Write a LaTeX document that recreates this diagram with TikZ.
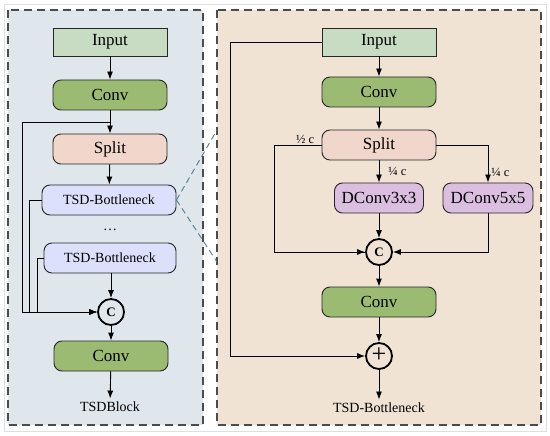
\documentclass[tikz,border=0pt]{standalone}
\usepackage{fontspec}
\setmainfont{Liberation Serif}
\usetikzlibrary{arrows.meta, positioning, calc}

\definecolor{panelblue}{HTML}{DFE6EC}
\definecolor{panelbeige}{HTML}{F0E3D4}
\definecolor{inputgreen}{HTML}{C8DBC3}
\definecolor{convgreen}{HTML}{9CBB72}
\definecolor{splitpink}{HTML}{F0D6CB}
\definecolor{tsdblue}{HTML}{DDE0FA}
\definecolor{dconvpurple}{HTML}{DCBEE0}
\definecolor{zoomteal}{HTML}{4F7D8E}

\tikzset{
  box/.style={draw=black!85, line width=0.9pt, minimum width=114pt, minimum height=30pt,
    inner sep=0pt, font=\fontsize{17}{17}\selectfont},
  rbox/.style={box, rounded corners=8pt},
  opnode/.style={circle, draw=black, line width=1.8pt, minimum size=26pt, inner sep=0pt},
  arr/.style={-{Latex[length=8pt,width=6pt]}, line width=0.9pt},
  link/.style={line width=0.9pt},
  panel/.style={dash pattern=on 8pt off 5pt, line width=1.2pt, draw=black!70},
  small/.style={font=\fontsize{14}{14}\selectfont},
  frac/.style={font=\fontsize{12.5}{12.5}\selectfont, inner sep=1pt},
}

\begin{document}
\begin{tikzpicture}[x=1pt, y=-1pt]
  \useasboundingbox (0,0) rectangle (550,436);
  \draw[gray!25, line width=0.8pt] (4,4) rectangle (546,431);

  % panels
  \draw[panel, fill=panelblue] (8,10) rectangle (203,425);
  \draw[panel, fill=panelbeige] (217,10) rectangle (541,425);

  % TSDBlock
  \node[box, fill=inputgreen, minimum height=28pt] (inL) at (110,42) {Input};
  \node[rbox, fill=convgreen] (convL) at (110,95) {Conv};
  \node[rbox, fill=splitpink] (splitL) at (110,149) {Split};
  \node[rbox, small, fill=tsdblue, minimum width=134pt] (tsdA) at (109,200) {TSD-Bottleneck};
  \node[small] (dotsL) at (110,230) {\dots};
  \node[rbox, small, fill=tsdblue, minimum width=132pt] (tsdB) at (110,258) {TSD-Bottleneck};
  \node[opnode] (catL) at (111,312) {\fontsize{13}{13}\selectfont\bfseries C};
  \node[rbox, fill=convgreen] (convL2) at (111,356) {Conv};
  \node[small] (outL) at (110,407) {TSDBlock};

  \draw[arr] (inL) -- (convL);
  \draw[arr] (convL) -- (splitL);
  \draw[arr] (splitL) -- (tsdA);
  \draw[arr] (tsdB.south -| catL) -- (catL);
  \draw[arr] (catL) -- (convL2);
  \draw[arr] (convL2) -- (outL);
  % shortcut branches
  \coordinate (skL) at ($(convL.south)!0.5!(splitL.north)$);
  \draw[arr] (skL) -- ++(-88,0) |- (catL.west);
  \draw[arr] (tsdA.west) -- ++(-12,0) |- (catL.west);
  \draw[arr] (tsdB.west) -- ++(-6,0) |- (catL.west);

  % zoom lines
  \coordinate (zoomT) at (217,130);
  \coordinate (zoomB) at (217,262);
  \draw[zoomteal, dash pattern=on 6pt off 4pt, line width=0.9pt] (tsdA.east) -- (zoomT);
  \draw[zoomteal, dash pattern=on 6pt off 4pt, line width=0.9pt] (tsdA.east) -- (zoomB);

  % TSD-Bottleneck
  \node[box, fill=inputgreen, minimum height=28pt] (inR) at (379,42) {Input};
  \node[rbox, fill=convgreen] (convR) at (379,92) {Conv};
  \node[rbox, fill=splitpink] (splitR) at (379,145) {Split};
  \node[rbox, fill=dconvpurple, minimum width=89pt] (dc3) at (379,198) {DConv3x3};
  \node[rbox, fill=dconvpurple, minimum width=90pt] (dc5) at (488,198) {DConv5x5};
  \node[opnode] (catR) at (379,252) {\fontsize{13}{13}\selectfont\bfseries C};
  \node[rbox, fill=convgreen] (convR2) at (379,302) {Conv};
  \node[opnode] (addR) at (379,356) {\fontsize{26}{26}\selectfont\raisebox{1pt}{+}};
  \node[small] (outR) at (379,408) {TSD-Bottleneck};

  \draw[arr] (inR) -- (convR);
  \draw[arr] (convR) -- (splitR);
  \draw[arr] (splitR) -- (dc3) node[frac, pos=0.5, right=8pt] {¼ c};
  \draw[arr] (splitR.east) -| (dc5.north) node[frac, pos=0.87, right=2pt] {¼ c};
  \draw[link] (splitR.west) -- ++(-47,0) node[frac, pos=0.35, above] {½ c} |- (catR.west);
  \draw[arr] ($(splitR.west)+(-47,0)$) |- (catR.west);
  \draw[arr] (dc3) -- (catR);
  \draw[arr] (dc5.south) |- (catR.east);
  \draw[arr] (catR) -- (convR2);
  \draw[arr] (convR2) -- (addR);
  \draw[arr] (inR.west) -- ++(-91,0) |- (addR.west);
  \draw[arr] (addR) -- (outR);
\end{tikzpicture}
\end{document}
